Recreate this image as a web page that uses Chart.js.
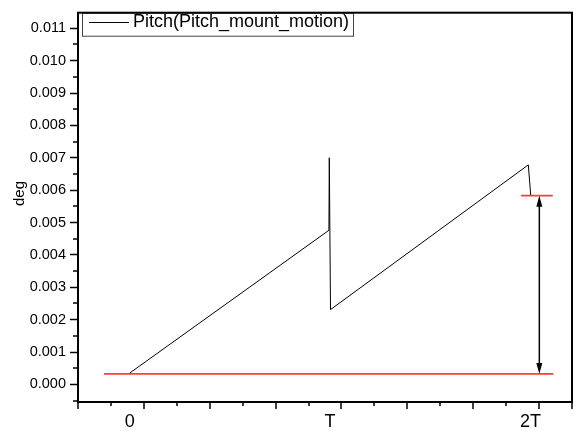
<!DOCTYPE html>
<html>
<head>
<meta charset="utf-8">
<title>Pitch</title>
<script src="https://cdn.jsdelivr.net/npm/chart.js@4"></script>
<style>
  html, body { margin: 0; padding: 0; background: #fff; }
  #wrap { width: 581px; height: 431px; }
</style>
</head>
<body>
<div id="wrap"><canvas id="pitch-chart" width="581" height="431"></canvas></div>
<script>
// time is in periods (T), pitch in degrees
const pitchT   = [0, 0.994, 0.996, 1.002, 1.989, 2.001];
const pitchDeg = [0.00035, 0.00476, 0.00700, 0.00231, 0.00678, 0.00585];

// red reference levels
const lowRefT   = [-0.128, 2.114];
const lowRefDeg = [0.000325, 0.000325];
const highRefT   = [1.953, 2.111];
const highRefDeg = [0.00583, 0.00583];

// double arrow between the two levels
const arrowT = 2.044;

const xTickValues = [0, 1, 2];
const xTickLabels = ['0', 'T', '2T'];
const yTickValues = [0, 0.001, 0.002, 0.003, 0.004, 0.005, 0.006, 0.007, 0.008, 0.009, 0.010, 0.011];

// tick marks along the bottom axis: every other one is long
const xMarkStart = -0.258;
const xMarkStep = 0.16435;
const xMarkCount = 16;

const FONT = 'Arial, "Liberation Sans", sans-serif';
const RED = 'rgb(255, 60, 60)';

const toPoints = (xs, ys) => xs.map((x, i) => ({ x, y: ys[i] }));

// frame, tick marks, legend box, arrow and y title
const decorations = {
    id: 'decorations',
    afterDatasetsDraw(chart) {
        const { ctx, chartArea: a, scales: { x, y } } = chart;
        ctx.save();

        // double arrow
        const ax = x.getPixelForValue(arrowT);
        const ay1 = y.getPixelForValue(highRefDeg[0]);
        const ay2 = y.getPixelForValue(lowRefDeg[0]);
        ctx.strokeStyle = '#000';
        ctx.fillStyle = '#000';
        ctx.lineWidth = 1.5;
        ctx.beginPath();
        ctx.moveTo(ax, ay1 + 6);
        ctx.lineTo(ax, ay2 - 6);
        ctx.stroke();
        [[ay1, 1], [ay2, -1]].forEach(([py, dir]) => {
            ctx.beginPath();
            ctx.moveTo(ax, py);
            ctx.lineTo(ax - 3, py + dir * 11);
            ctx.lineTo(ax + 3, py + dir * 11);
            ctx.closePath();
            ctx.fill();
        });

        // legend
        const ds = chart.data.datasets[0];
        ctx.lineWidth = 1;
        ctx.strokeStyle = '#444';
        ctx.fillStyle = '#fff';
        ctx.fillRect(82.5, a.top, 271, 23);
        ctx.strokeRect(82.5, a.top + 0.5, 271, 23);
        ctx.strokeStyle = '#000';
        ctx.beginPath();
        ctx.moveTo(89, 22.5);
        ctx.lineTo(129, 22.5);
        ctx.stroke();
        ctx.fillStyle = '#000';
        ctx.font = '18px ' + FONT;
        ctx.textBaseline = 'middle';
        ctx.textAlign = 'left';
        ctx.fillText(ds.label, 133, 22);

        // frame
        ctx.lineWidth = 2;
        ctx.strokeStyle = '#000';
        ctx.strokeRect(a.left, a.top, a.right - a.left, a.bottom - a.top);

        // x tick marks
        ctx.lineWidth = 1.5;
        ctx.beginPath();
        for (let k = 0; k < xMarkCount; k++) {
            const px = Math.round(x.getPixelForValue(xMarkStart + k * xMarkStep));
            const len = (k % 2 === 0 || k === xMarkCount - 1) ? 7 : 4;
            ctx.moveTo(px, a.bottom);
            ctx.lineTo(px, a.bottom + len);
        }
        // y minor tick marks
        for (let v = -0.0005; v < y.max; v += 0.001) {
            const py = Math.round(y.getPixelForValue(v));
            ctx.moveTo(a.left, py);
            ctx.lineTo(a.left - 5, py);
        }
        ctx.stroke();

        // y title
        ctx.translate(20, 193.5);
        ctx.rotate(-Math.PI / 2);
        ctx.font = '15px ' + FONT;
        ctx.textAlign = 'center';
        ctx.textBaseline = 'middle';
        ctx.fillText('deg', 0, 0);

        ctx.restore();
    }
};

new Chart(document.getElementById('pitch-chart'), {
    type: 'line',
    data: {
        datasets: [
            {
                label: 'Pitch(Pitch_mount_motion)',
                data: toPoints(pitchT, pitchDeg),
                borderColor: '#000',
                borderWidth: 1
            },
            {
                label: 'low level',
                data: toPoints(lowRefT, lowRefDeg),
                borderColor: RED,
                borderWidth: 1.6
            },
            {
                label: 'high level',
                data: toPoints(highRefT, highRefDeg),
                borderColor: RED,
                borderWidth: 1.6
            }
        ]
    },
    options: {
        responsive: false,
        animation: false,
        events: [],
        layout: { padding: { top: 10, right: 9, left: 0, bottom: 0 } },
        elements: { point: { radius: 0 }, line: { tension: 0 } },
        plugins: { legend: { display: false }, tooltip: { enabled: false } },
        scales: {
            x: {
                type: 'linear',
                min: -0.258,
                max: 2.207,
                afterBuildTicks: scale => { scale.ticks = xTickValues.map(value => ({ value })); },
                afterFit: scale => { scale.height = 29; },
                ticks: {
                    callback: (value, i) => xTickLabels[i],
                    font: { size: 18, family: FONT },
                    color: '#000',
                    padding: 9,
                    maxRotation: 0,
                    autoSkip: false
                },
                grid: { display: false, drawTicks: false },
                border: { display: false }
            },
            y: {
                min: -0.000543,
                max: 0.01148,
                afterBuildTicks: scale => { scale.ticks = yTickValues.map(value => ({ value })); },
                afterFit: scale => { scale.width = 78; },
                ticks: {
                    callback: value => value.toFixed(3),
                    font: { size: 14.5, family: FONT },
                    color: '#000',
                    padding: 4
                },
                grid: {
                    drawOnChartArea: false,
                    tickLength: 8,
                    tickWidth: 1.5,
                    tickColor: '#000'
                },
                border: { display: false }
            }
        }
    },
    plugins: [decorations]
});
</script>
</body>
</html>
